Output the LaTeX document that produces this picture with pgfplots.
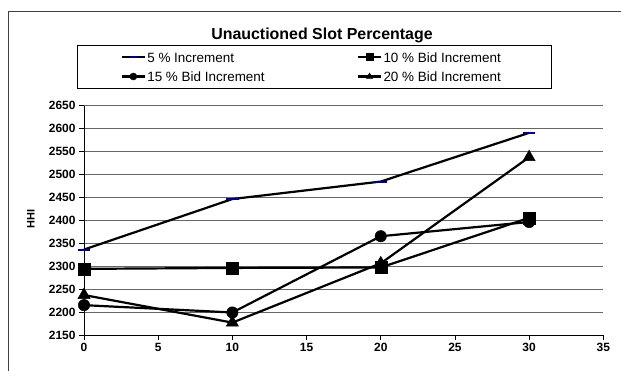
\documentclass[border=0pt]{standalone}
\usepackage{pgfplots}
\pgfplotsset{compat=1.18}
\usepackage{fontspec}
\setmainfont{Liberation Sans}
\definecolor{navyblue}{RGB}{0,0,128}

\begin{document}
\begin{tikzpicture}[x=1bp,y=1bp]
\useasboundingbox (0,0) rectangle (621,370);
% chart frame
\begin{scope}
  \clip (0,0) rectangle (621,370);
  \draw[line width=1.3bp, black!75] (8.3,-20) rectangle (650,358.3);
\end{scope}
\node[anchor=base, font=\fontsize{16}{19}\selectfont\bfseries] at (322,331) {Unauctioned Slot Percentage};
\node[rotate=90, font=\fontsize{11}{13}\selectfont\bfseries] at (30.8,150.8) {HHI};
\begin{axis}[
  at={(84bp,35bp)}, anchor=south west,
  scale only axis, width=519.3bp, height=229.7bp,
  xmin=0, xmax=35, ymin=2150, ymax=2650,
  xtick={0,5,...,35}, ytick={2150,2200,...,2600},
  extra y ticks={2650},
  extra y tick style={grid style={black!25, line width=1bp}},
  axis lines=left, axis line style={-, line width=0.8bp, black},
  tick align=outside, major tick length=5bp,
  tick style={black, line width=0.8bp},
  ymajorgrids, major grid style={black!60, line width=0.9bp},
  ticklabel style={font=\fontsize{12}{14}\selectfont\bfseries},
  /pgf/number format/assume math mode=true,
  /pgf/number format/1000 sep={},
  clip=false,
  legend columns=2,
  legend cell align=left,
  legend style={at={(rel axis cs:-0.01406,1.2625)}, anchor=north west,
    draw=black, line width=0.8bp, inner xsep=44bp, inner ysep=5.8bp,
    row sep=7.3bp, column sep=0bp,
    nodes={inner sep=0pt, text height=10.8bp, text depth=1.2bp},
    font=\fontsize{13.5}{16}\selectfont},
  legend image code/.code={%
    \draw[mark repeat=2,mark phase=2,#1] plot coordinates {(0bp,0bp)(11.15bp,0bp)(22.3bp,0bp)};},
  every legend image post/.append style={mark size=3.5bp},
]
\addplot[black, line width=2.2bp, mark=-, mark size=6.3bp,
  mark options={draw=navyblue, line width=2bp}]
  coordinates {(0,2336)(10,2446)(20,2484)(30,2590)};
\addlegendentry{\makebox[211.7bp][l]{\hspace{1.7bp}5 \% Increment}}
\addplot[black, line width=2.2bp, mark=square*, mark size=6bp,
  mark options={fill=black, line width=0.5bp}]
  coordinates {(0,2294)(10,2296)(20,2297)(30,2405)};
\addlegendentry{\makebox[126bp][l]{\hspace{1.7bp}10 \% Bid Increment}}
\addplot[black, line width=2.2bp, mark=*, mark size=5.7bp,
  mark options={fill=black, line width=0.5bp}]
  coordinates {(0,2215)(10,2199)(20,2365)(30,2396)};
\addlegendentry{\makebox[211.7bp][l]{\hspace{1.7bp}15 \% Bid Increment}}
\addplot[black, line width=2.2bp, mark=triangle*, mark size=7bp,
  mark options={fill=black, line width=0.5bp}]
  coordinates {(0,2237)(10,2177)(20,2306)(30,2537)};
\addlegendentry{\makebox[126bp][l]{\hspace{1.7bp}20 \% Bid Increment}}
\end{axis}
\end{tikzpicture}
\end{document}
